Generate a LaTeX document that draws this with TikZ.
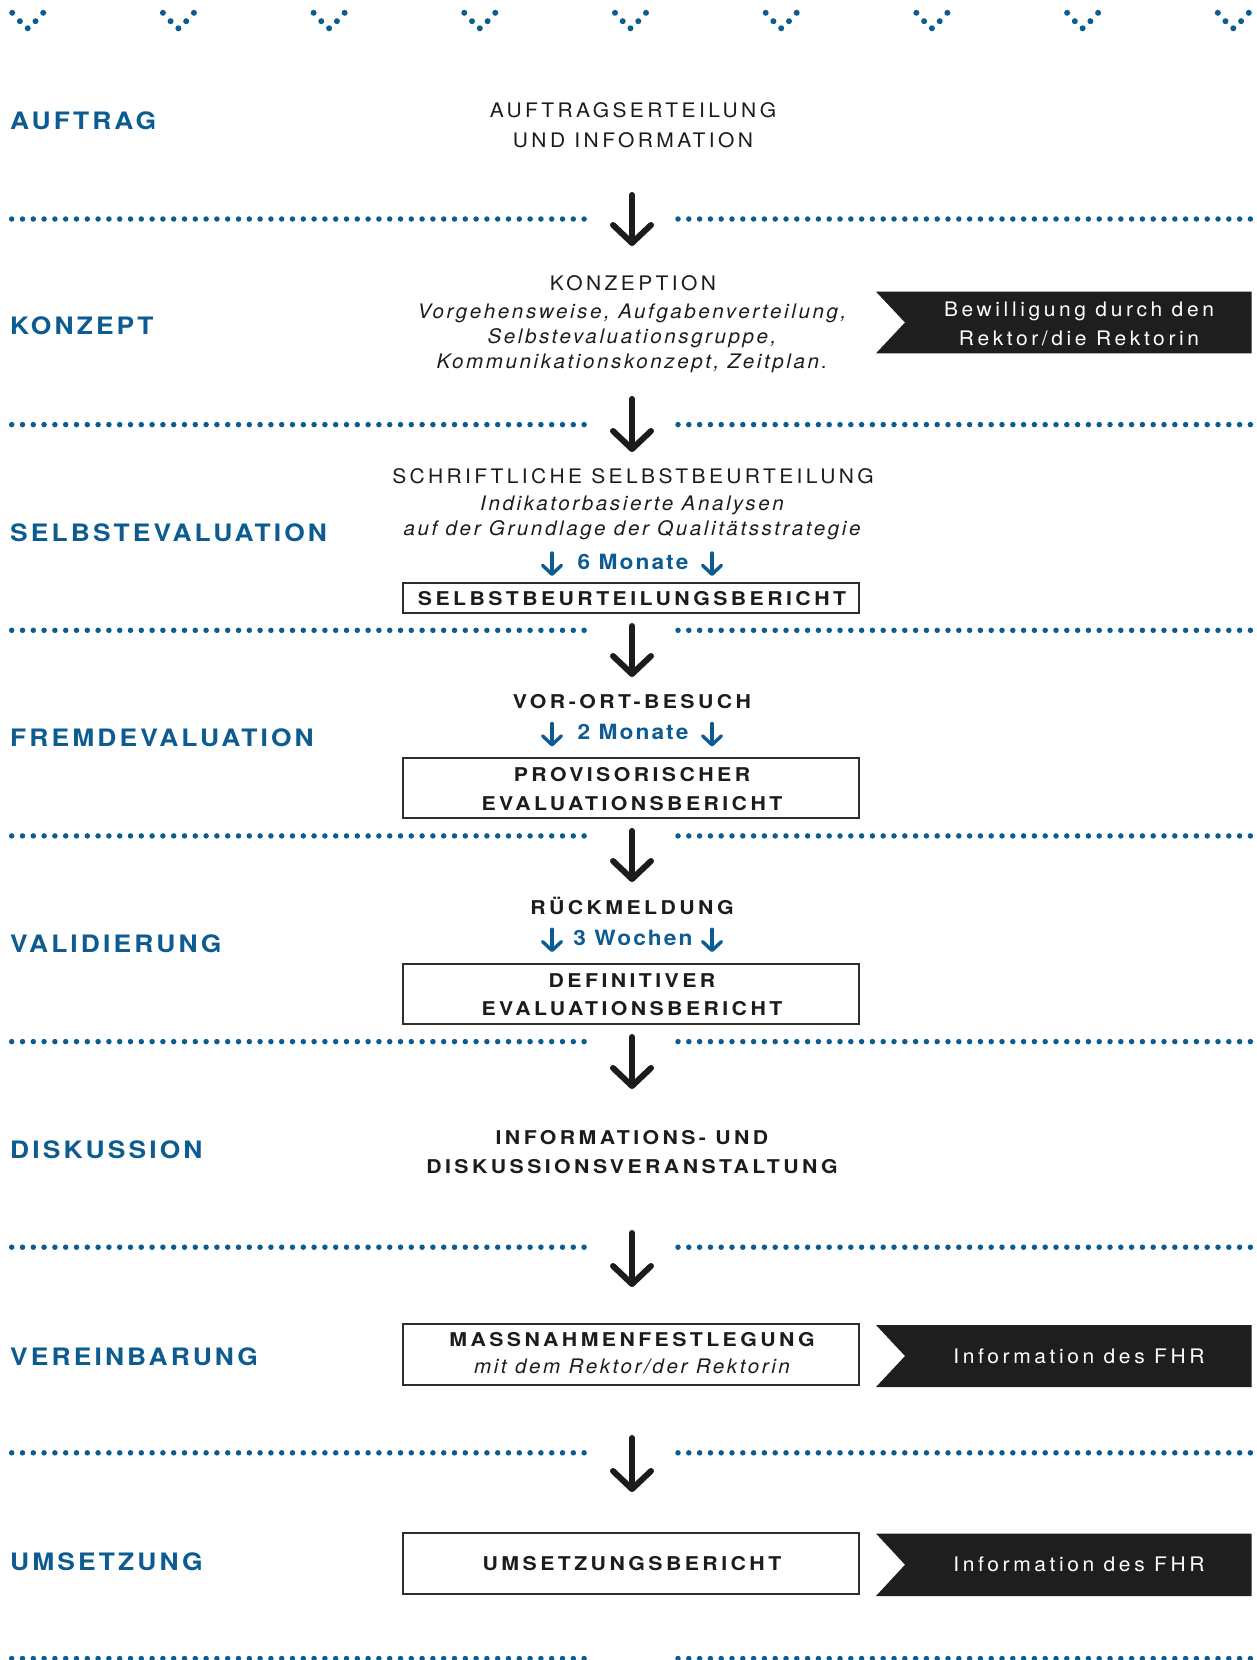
\documentclass[tikz,border=0pt]{standalone}
\usepackage{fontspec}
\setmainfont{TeX Gyre Heros}
\newfontfamily\lblF[LetterSpace=13,FakeStretch=1.1]{TeX Gyre Heros}
\newfontfamily\regF[LetterSpace=17,FakeStretch=1.05]{TeX Gyre Heros}
\newfontfamily\itF[LetterSpace=13,FakeStretch=1.03]{TeX Gyre Heros}
\newfontfamily\bldF[LetterSpace=18,FakeStretch=1.12]{TeX Gyre Heros}
\newfontfamily\bluF[LetterSpace=10,FakeStretch=1.08]{TeX Gyre Heros}
\newfontfamily\tagF[LetterSpace=18,FakeStretch=1.05]{TeX Gyre Heros}
\usetikzlibrary{arrows.meta}
\definecolor{fhblue}{RGB}{12,92,145}
\definecolor{ink}{RGB}{28,28,28}
\definecolor{tagfill}{RGB}{30,30,30}
\definecolor{boxline}{RGB}{45,45,45}
\begin{document}
\begin{tikzpicture}[x=1pt,y=-1pt,
  lbl/.style={anchor=base west, inner sep=0pt, text=fhblue, font=\lblF\bfseries\fontsize{24}{28}\selectfont},
  regc/.style={anchor=base, inner sep=0pt, text=ink, font=\regF\fontsize{20}{24}\selectfont},
  itc/.style={anchor=base, inner sep=0pt, text=ink, font=\itF\itshape\fontsize{20}{24}\selectfont},
  bldc/.style={anchor=base, inner sep=0pt, text=ink, font=\bldF\bfseries\fontsize{19}{23}\selectfont},
  bluc/.style={anchor=base, inner sep=0pt, text=fhblue, font=\bluF\bfseries\fontsize{21}{25}\selectfont},
  tagc/.style={anchor=base, inner sep=0pt, text=white, font=\tagF\fontsize{20}{24}\selectfont},
  repbox/.style={draw=boxline, line width=2pt, fill=none, minimum width=456pt, inner sep=0pt},
  bigarr/.style={draw=ink, line width=6pt, line cap=round, -{Straight Barb[length=18pt,width=38pt,round]}},
  smallarr/.style={draw=fhblue, line width=3.4pt, line cap=round, -{Straight Barb[length=9pt,width=19pt,round]}},
  tagshape/.style={fill=tagfill}
]
\useasboundingbox (0,0) rectangle (1257,1660);

% top pattern
\foreach \k in {0,...,8} {
  \foreach \dx/\dy in {-15.5/-15.5,-7.8/-7.1,0/0,7.8/-7.1,15.5/-15.5}
    \fill[fhblue] (27.7+\k*150.7+\dx, 28.3+\dy) circle[radius=3pt];
}

% dotted separators
\foreach \yy in {219,424.6,630.3,835.9,1041.6,1247.2,1452.8,1658.5} {
  \foreach \i in {0,...,53} {
    \fill[fhblue] (11.7+\i*10.8, \yy) circle[radius=2.75pt];
    \fill[fhblue] (678+\i*10.8, \yy) circle[radius=2.75pt];
  }
}

% left labels
\node[lbl] (lAuftrag) at (10,129) {AUFTRAG};
\node[lbl] (lKonzept) at (10,334.5) {KONZEPT};
\node[lbl] (lSelbst) at (10,541) {SELBSTEVALUATION};
\node[lbl] (lFremd) at (10,746.6) {FREMDEVALUATION};
\node[lbl] (lValid) at (10,952) {VALIDIERUNG};
\node[lbl] (lDisk) at (10,1158.5) {DISKUSSION};
\node[lbl] (lVerein) at (10,1365) {VEREINBARUNG};
\node[lbl] (lUmsetz) at (10,1570.5) {UMSETZUNG};

% AUFTRAG
\node[regc] (t1a) at (633,117.3) {AUFTRAGSERTEILUNG};
\node[regc] (t1b) at (633,147) {UND INFORMATION};

% KONZEPT
\node[regc] (t2a) at (633,290) {KONZEPTION};
\node[itc] (t2b) at (632,318.3) {Vorgehensweise, Aufgabenverteilung,};
\node[itc] (t2c) at (632,343.3) {Selbstevaluationsgruppe,};
\node[itc] (t2d) at (632,368.3) {Kommunikationskonzept, Zeitplan.};
\fill[tagshape] (876,291.7) -- (1251.7,291.7) -- (1251.7,353.3) -- (876,353.3) -- (905,322.5) -- cycle;
\node[tagc] (tag1a) at (1079,316.7) {Bewilligung durch den};
\node[tagc] (tag1b) at (1079,345) {Rektor/die Rektorin};

% SELBSTEVALUATION
\node[regc] (t3a) at (633,483.3) {SCHRIFTLICHE SELBSTBEURTEILUNG};
\node[itc] (t3b) at (632,510) {Indikatorbasierte Analysen};
\node[itc] (t3c) at (632,535) {auf der Grundlage der Qualitätsstrategie};
\node[bluc] (m6) at (633,569) {6 Monate};
\coordinate (m6la) at (552,553); \coordinate (m6lb) at (552,576);
\coordinate (m6ra) at (712,553); \coordinate (m6rb) at (712,576);
\draw[smallarr] (m6la) -- (m6lb);
\draw[smallarr] (m6ra) -- (m6rb);
\node[repbox, minimum height=30pt] (box1) at (631,598.3) {};
\node[bldc] (b1) at (632,605) {SELBSTBEURTEILUNGSBERICHT};

% FREMDEVALUATION
\node[bldc] (t4a) at (632,708.3) {VOR-ORT-BESUCH};
\node[bluc] (m2) at (633,739.3) {2 Monate};
\coordinate (m2la) at (552,723.5); \coordinate (m2lb) at (552,746.5);
\coordinate (m2ra) at (712,723.5); \coordinate (m2rb) at (712,746.5);
\draw[smallarr] (m2la) -- (m2lb);
\draw[smallarr] (m2ra) -- (m2rb);
\node[repbox, minimum height=60pt] (box2) at (631,788.3) {};
\node[bldc] (b2a) at (632,781.7) {PROVISORISCHER};
\node[bldc] (b2b) at (632,810) {EVALUATIONSBERICHT};

% VALIDIERUNG
\node[bldc] (t5a) at (632,914) {RÜCKMELDUNG};
\node[bluc] (w3) at (633,945) {3 Wochen};
\coordinate (w3la) at (552,929.2); \coordinate (w3lb) at (552,952.2);
\coordinate (w3ra) at (712,929.2); \coordinate (w3rb) at (712,952.2);
\draw[smallarr] (w3la) -- (w3lb);
\draw[smallarr] (w3ra) -- (w3rb);
\node[repbox, minimum height=60pt] (box3) at (631,994) {};
\node[bldc] (b3a) at (632,987.4) {DEFINITIVER};
\node[bldc] (b3b) at (632,1015.7) {EVALUATIONSBERICHT};

% DISKUSSION
\node[bldc] (t6a) at (632,1144.5) {INFORMATIONS- UND};
\node[bldc] (t6b) at (632,1173) {DISKUSSIONSVERANSTALTUNG};

% VEREINBARUNG
\node[repbox, minimum height=61pt] (box4) at (631,1354.5) {};
\node[bldc] (b4a) at (632,1346.7) {MASSNAHMENFESTLEGUNG};
\node[itc] (b4b) at (632,1373.3) {mit dem Rektor/der Rektorin};
\fill[tagshape] (876,1325) -- (1251.7,1325) -- (1251.7,1387) -- (876,1387) -- (905,1356) -- cycle;
\node[tagc] (tag2) at (1079,1363) {Information des FHR};

% UMSETZUNG
\node[repbox, minimum height=60.5pt] (box5) at (631,1563.7) {};
\node[bldc] (b5) at (632,1570) {UMSETZUNGSBERICHT};
\fill[tagshape] (876,1533.5) -- (1251.7,1533.5) -- (1251.7,1596) -- (876,1596) -- (905,1564.7) -- cycle;
\node[tagc] (tag3) at (1079,1571) {Information des FHR};

% big arrows
\coordinate (a1s) at (632,195); \coordinate (a1e) at (632,246);
\coordinate (a2s) at (632,399); \coordinate (a2e) at (632,452);
\coordinate (a3s) at (632,626); \coordinate (a3e) at (632,677);
\coordinate (a4s) at (632,831); \coordinate (a4e) at (632,882);
\coordinate (a5s) at (632,1037); \coordinate (a5e) at (632,1089);
\coordinate (a6s) at (632,1233); \coordinate (a6e) at (632,1287);
\coordinate (a7s) at (632,1438); \coordinate (a7e) at (632,1492);
\draw[bigarr] (a1s) -- (a1e);
\draw[bigarr] (a2s) -- (a2e);
\draw[bigarr] (a3s) -- (a3e);
\draw[bigarr] (a4s) -- (a4e);
\draw[bigarr] (a5s) -- (a5e);
\draw[bigarr] (a6s) -- (a6e);
\draw[bigarr] (a7s) -- (a7e);
\end{tikzpicture}
\end{document}
